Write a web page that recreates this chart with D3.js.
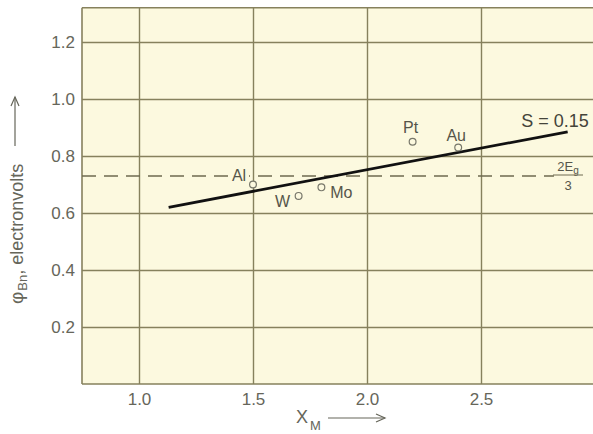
<!DOCTYPE html>
<html><head><meta charset="utf-8">
<script src="https://cdn.jsdelivr.net/npm/d3@7"></script>
<style>body{margin:0;background:#fff}svg{display:block}text{font-family:"Liberation Sans",Arial,sans-serif}</style>
</head><body><svg id="c" width="593" height="434"></svg>
<script>
const metals = ["Al","W","Mo","Pt","Au"];
const xM = [1.5, 1.7, 1.8, 2.2, 2.4];
const phiBn = [0.70, 0.66, 0.69, 0.85, 0.83];
const fitX = [1.13, 2.88];
const fitY = [0.62, 0.885];
const dashedLevel = 0.73;
const dashedEnd = 2.82;
const xTicks = [1.0, 1.5, 2.0, 2.5];
const yTicks = [0.2, 0.4, 0.6, 0.8, 1.0, 1.2];

const svg = d3.select("#c");
const x = d3.scaleLinear().domain([0.75, 3.0]).range([82, 595]);
const y = d3.scaleLinear().domain([0, 1.32]).range([384, 7.8]);
const grid = "#86815d", txt = "#66665a", bg = "#fcf9df";

svg.append("rect").attr("x", x(0.75)).attr("y", y(1.32)).attr("width", x(3.0)-x(0.75)).attr("height", y(0)-y(1.32)).attr("fill", bg);

svg.append("g").attr("transform", `translate(0,${y(0)})`)
  .call(d3.axisBottom(x).tickValues(xTicks).tickSize(-(y(0)-y(1.32))).tickFormat(d3.format(".1f")))
  .call(g => { g.select(".domain").remove();
    g.selectAll("line").attr("stroke", grid).attr("stroke-width", 1.4);
    g.selectAll("text").attr("fill", txt).attr("font-size", 17).attr("font-family", "Liberation Sans, Arial, sans-serif").attr("dy", "0.9em").attr("y", 6); });
svg.append("g").attr("transform", `translate(${x(0.75)},0)`)
  .call(d3.axisLeft(y).tickValues(yTicks).tickSize(-(x(3.0)-x(0.75))).tickFormat(d3.format(".1f")))
  .call(g => { g.select(".domain").remove();
    g.selectAll("line").attr("stroke", grid).attr("stroke-width", 1.4);
    g.selectAll("text").attr("fill", txt).attr("font-size", 17).attr("font-family", "Liberation Sans, Arial, sans-serif").attr("x", -7); });
svg.append("line").attr("x1", x(0.75)).attr("x2", x(3.0)).attr("y1", y(1.32)).attr("y2", y(1.32)).attr("stroke", grid).attr("stroke-width", 1.6);
svg.append("line").attr("x1", x(0.75)).attr("x2", x(3.0)).attr("y1", y(0)).attr("y2", y(0)).attr("stroke", grid).attr("stroke-width", 1.6);
svg.append("line").attr("x1", x(0.75)).attr("x2", x(0.75)).attr("y1", y(0)).attr("y2", y(1.32)).attr("stroke", grid).attr("stroke-width", 1.6);

svg.append("line").attr("x1", x(0.75)).attr("x2", x(dashedEnd)).attr("y1", y(dashedLevel)).attr("y2", y(dashedLevel))
  .attr("stroke", "#6e6a50").attr("stroke-width", 1.4).attr("stroke-dasharray", "14,8");

svg.append("line").attr("x1", x(fitX[0])).attr("y1", y(fitY[0])).attr("x2", x(fitX[1])).attr("y2", y(fitY[1]))
  .attr("stroke", "#111").attr("stroke-width", 2.8);

svg.selectAll("circle.pt").data(metals).join("circle").attr("class", "pt")
  .attr("cx", (d,i) => x(xM[i])).attr("cy", (d,i) => y(phiBn[i])).attr("r", 3.4)
  .attr("fill", bg).attr("stroke", "#77776a").attr("stroke-width", 1.2);

const off = {Al:[-14,-9], W:[-16,6], Mo:[20,5], Pt:[-2,-14], Au:[-2,-12]};
const lab = svg.selectAll("g.lab").data(metals).join("g").attr("class", "lab");
lab.each(function(d,i){
  const g = d3.select(this);
  const cx = x(xM[i]) + off[d][0], cy = y(phiBn[i]) + off[d][1];
  if (d === "Al") g.append("rect").attr("x", cx-10).attr("y", cy-7).attr("width", 20).attr("height", 14).attr("fill", bg);
  g.append("text").attr("x", cx).attr("y", cy).attr("text-anchor", "middle").attr("dominant-baseline", "central")
    .attr("font-size", 16).attr("fill", "#55554a").text(d);
});

svg.append("text").attr("x", 555).attr("y", 127).attr("text-anchor", "middle").attr("font-size", 18).attr("fill", "#44443a").text("S = 0.15");

const fx = 568;
const fr = svg.append("text").attr("x", fx).attr("y", 171).attr("text-anchor", "middle").attr("font-size", 13).attr("fill", "#55554a");
fr.append("tspan").text("2E");
fr.append("tspan").attr("font-size", 10).attr("dy", 3).text("g");
svg.append("line").attr("x1", fx-15).attr("x2", fx+15).attr("y1", 175).attr("y2", 175).attr("stroke", "#6e6a50").attr("stroke-width", 1);
svg.append("text").attr("x", fx).attr("y", 190).attr("text-anchor", "middle").attr("font-size", 13).attr("fill", "#55554a").text("3");

const xl = svg.append("text").attr("x", 296).attr("y", 423).attr("font-size", 18).attr("fill", txt);
xl.append("tspan").text("X");
xl.append("tspan").attr("font-size", 13).attr("dy", 7).attr("dx", 2).text("M");
svg.append("line").attr("x1", 328).attr("x2", 385).attr("y1", 418).attr("y2", 418).attr("stroke", txt).attr("stroke-width", 1.2);
svg.append("path").attr("d", "M376,414 L385,418 L376,422").attr("fill", "none").attr("stroke", txt).attr("stroke-width", 1.2);

const yl = svg.append("text").attr("transform", "translate(23,304) rotate(-90)").attr("font-size", 18).attr("fill", txt);
yl.append("tspan").attr("font-size", 19).text("φ");
yl.append("tspan").attr("font-size", 13).attr("dy", 4).attr("dx", 1).text("Bn");
yl.append("tspan").attr("dy", -4).text(", electronvolts");
svg.append("line").attr("x1", 15).attr("x2", 15).attr("y1", 146).attr("y2", 97).attr("stroke", txt).attr("stroke-width", 1.2);
svg.append("path").attr("d", "M11,106 L15,97 L19,106").attr("fill", "none").attr("stroke", txt).attr("stroke-width", 1.2);
</script></body></html>
